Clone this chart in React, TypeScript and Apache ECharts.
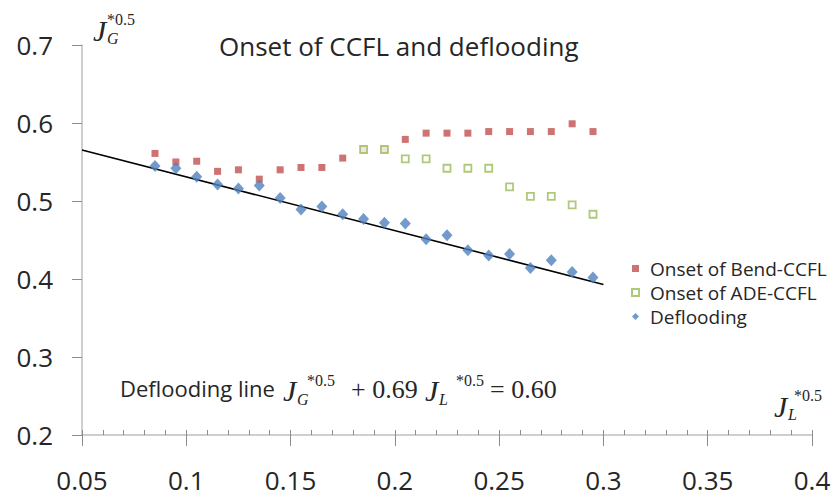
import React, { useEffect, useRef } from "react";
import * as echarts from "echarts";

// Superficial liquid velocity J_L*^0.5 at which each point was taken
const jLValues = [
  0.085, 0.095, 0.105, 0.115, 0.125, 0.135, 0.145, 0.155, 0.165, 0.175, 0.185,
  0.195, 0.205, 0.215, 0.225, 0.235, 0.245, 0.255, 0.265, 0.275, 0.285, 0.295,
];
const bendOnset = [
  0.561, 0.55, 0.551, 0.538, 0.54, 0.528, 0.54, 0.543, 0.543, 0.555, 0.566,
  0.566, 0.579, 0.587, 0.587, 0.587, 0.589, 0.589, 0.589, 0.589, 0.599, 0.589,
];
const adeJL = [
  0.185, 0.195, 0.205, 0.215, 0.225, 0.235, 0.245, 0.255, 0.265, 0.275, 0.285,
  0.295,
];
const adeOnset = [
  0.566, 0.566, 0.554, 0.554, 0.542, 0.542, 0.542, 0.518, 0.506, 0.506, 0.495,
  0.483,
];
const deflooding = [
  0.545, 0.542, 0.531, 0.521, 0.516, 0.52, 0.504, 0.489, 0.493, 0.483, 0.477,
  0.472, 0.471, 0.451, 0.456, 0.437, 0.43, 0.432, 0.414, 0.424, 0.409, 0.402,
];

// Deflooding correlation: J_G*^0.5 + 0.69 J_L*^0.5 = 0.60
const lineSlope = 0.69;
const lineConst = 0.6;
const lineRange = [0.05, 0.3];

const xTickLabels = ["0.05", "0.1", "0.15", "0.2", "0.25", "0.3", "0.35", "0.4"];
const yTickLabels = ["0.2", "0.3", "0.4", "0.5", "0.6", "0.7"];

const seriesNames = ["Onset of Bend-CCFL", "Onset of ADE-CCFL", "Deflooding"];

const RED = "#C0504D";
const GREEN = "#9BBB59";
const BLUE = "#4F81BD";
const INK = "#262626";
const AXIS_GRAY = "#BFBFBF";
const TICK_GRAY = "#8C8C8C";
const SANS = '"Open Sans", sans-serif';
const SERIF = '"Liberation Serif", serif';

type Piece = { t: string; x: number; y: number; size: number; italic?: boolean; sans?: boolean };

// J*^0.5 symbols and the correlation text, built from small text pieces
const mathPieces: Piece[] = [
  // y-axis name J_G*^0.5
  { t: "J", x: 93, y: 30, size: 30, italic: true },
  { t: "*0.5", x: 107, y: 19, size: 16 },
  { t: "G", x: 107, y: 38, size: 16, italic: true },
  // x-axis name J_L*^0.5
  { t: "J", x: 774, y: 406, size: 30, italic: true },
  { t: "*0.5", x: 794, y: 395, size: 16 },
  { t: "L", x: 788, y: 414, size: 16, italic: true },
  // correlation line label
  { t: "Deflooding line", x: 120, y: 388, size: 22, sans: true },
  { t: "J", x: 283, y: 390, size: 30, italic: true },
  { t: "*0.5", x: 307, y: 380, size: 16 },
  { t: "G", x: 297, y: 399, size: 16, italic: true },
  { t: "+ 0.69", x: 351, y: 389, size: 26 },
  { t: "J", x: 425, y: 390, size: 30, italic: true },
  { t: "*0.5", x: 456, y: 380, size: 16 },
  { t: "L", x: 439, y: 399, size: 16, italic: true },
  { t: "= 0.60", x: 490, y: 389, size: 26 },
];

export default function App() {
  const ref = useRef<HTMLDivElement>(null);

  useEffect(() => {
    if (!ref.current) return;
    const chart = echarts.init(ref.current, undefined, { renderer: "svg" });

    const gridBox = { left: 82, right: 28, top: 45, bottom: 63 };
    const xBase = {
      type: "value" as const,
      min: 0.05,
      max: 0.4,
      interval: 0.05,
      splitLine: { show: false },
    };

    const option: echarts.EChartsOption = {
      animation: false,
      backgroundColor: "#ffffff",
      title: {
        text: "Onset of CCFL and deflooding",
        left: 214,
        top: 28,
        textStyle: { fontFamily: SANS, fontSize: 26, fontWeight: "normal", color: INK },
      },
      legend: {
        orient: "vertical",
        left: 626,
        top: 254,
        itemWidth: 7,
        itemHeight: 7,
        itemGap: 5,
        data: seriesNames,
        textStyle: { fontFamily: SANS, fontSize: 19, color: INK, padding: [0, 0, 0, 6] },
      },
      grid: [
        { ...gridBox, containLabel: false },
        { ...gridBox, containLabel: false },
      ],
      xAxis: [
        {
          ...xBase,
          gridIndex: 0,
          axisLine: { show: true, lineStyle: { color: AXIS_GRAY, width: 1.5 } },
          axisTick: { show: true, inside: false, length: 11, lineStyle: { color: TICK_GRAY } },
          axisLabel: {
            margin: 32,
            fontFamily: SANS,
            fontSize: 26,
            color: INK,
            formatter: (v: number) => xTickLabels[Math.round((v - 0.05) / 0.05)] ?? "",
          },
        },
        {
          ...xBase,
          gridIndex: 1,
          axisLine: { show: false },
          axisTick: { show: true, inside: true, length: 5, lineStyle: { color: TICK_GRAY } },
          minorTick: { show: true, splitNumber: 5, length: 5, lineStyle: { color: TICK_GRAY } },
          axisLabel: { show: false },
        },
      ],
      yAxis: [
        {
          type: "value",
          gridIndex: 0,
          min: 0.2,
          max: 0.7,
          interval: 0.1,
          splitLine: { show: false },
          axisLine: { show: true, lineStyle: { color: AXIS_GRAY, width: 1.5 } },
          axisTick: { show: true, inside: false, length: 10, lineStyle: { color: TICK_GRAY } },
          axisLabel: {
            margin: 29,
            fontFamily: SANS,
            fontSize: 26,
            color: INK,
            formatter: (v: number) => yTickLabels[Math.round((v - 0.2) / 0.1)] ?? "",
          },
        },
        { type: "value", gridIndex: 1, min: 0.2, max: 0.7, show: false },
      ],
      series: [
        {
          name: "Deflooding correlation",
          type: "line",
          xAxisIndex: 0,
          yAxisIndex: 0,
          data: lineRange.map((x) => [x, lineConst - lineSlope * x]),
          symbol: "none",
          silent: true,
          lineStyle: { color: "#000000", width: 1.6 },
          z: 1,
        },
        {
          name: seriesNames[0],
          type: "scatter",
          xAxisIndex: 0,
          yAxisIndex: 0,
          symbol: "rect",
          symbolSize: 7,
          data: jLValues.map((x, i) => [x, bendOnset[i]]),
          itemStyle: { color: RED },
          z: 2,
        },
        {
          name: seriesNames[1],
          type: "scatter",
          xAxisIndex: 0,
          yAxisIndex: 0,
          symbol: "rect",
          symbolSize: 7,
          data: adeJL.map((x, i) => [x, adeOnset[i]]),
          itemStyle: { color: "#ffffff", borderColor: GREEN, borderWidth: 1.8 },
          z: 3,
        },
        {
          name: seriesNames[2],
          type: "scatter",
          xAxisIndex: 0,
          yAxisIndex: 0,
          symbol: "diamond",
          symbolSize: [11, 12],
          data: jLValues.map((x, i) => [x, deflooding[i]]),
          itemStyle: { color: BLUE },
          z: 4,
        },
      ],
      graphic: mathPieces.map((p) => ({
        type: "text",
        x: p.x,
        y: p.y,
        silent: true,
        style: {
          text: p.t,
          fontSize: p.size,
          fontFamily: p.sans ? SANS : SERIF,
          fontStyle: p.italic ? "italic" : "normal",
          fill: INK,
          verticalAlign: "middle",
        },
      })),
    };

    chart.setOption(option);
    return () => chart.dispose();
  }, []);

  return (
    <div
      ref={ref}
      style={{ position: "fixed", left: 0, top: 0, width: 840, height: 498, background: "#fff" }}
    />
  );
}
